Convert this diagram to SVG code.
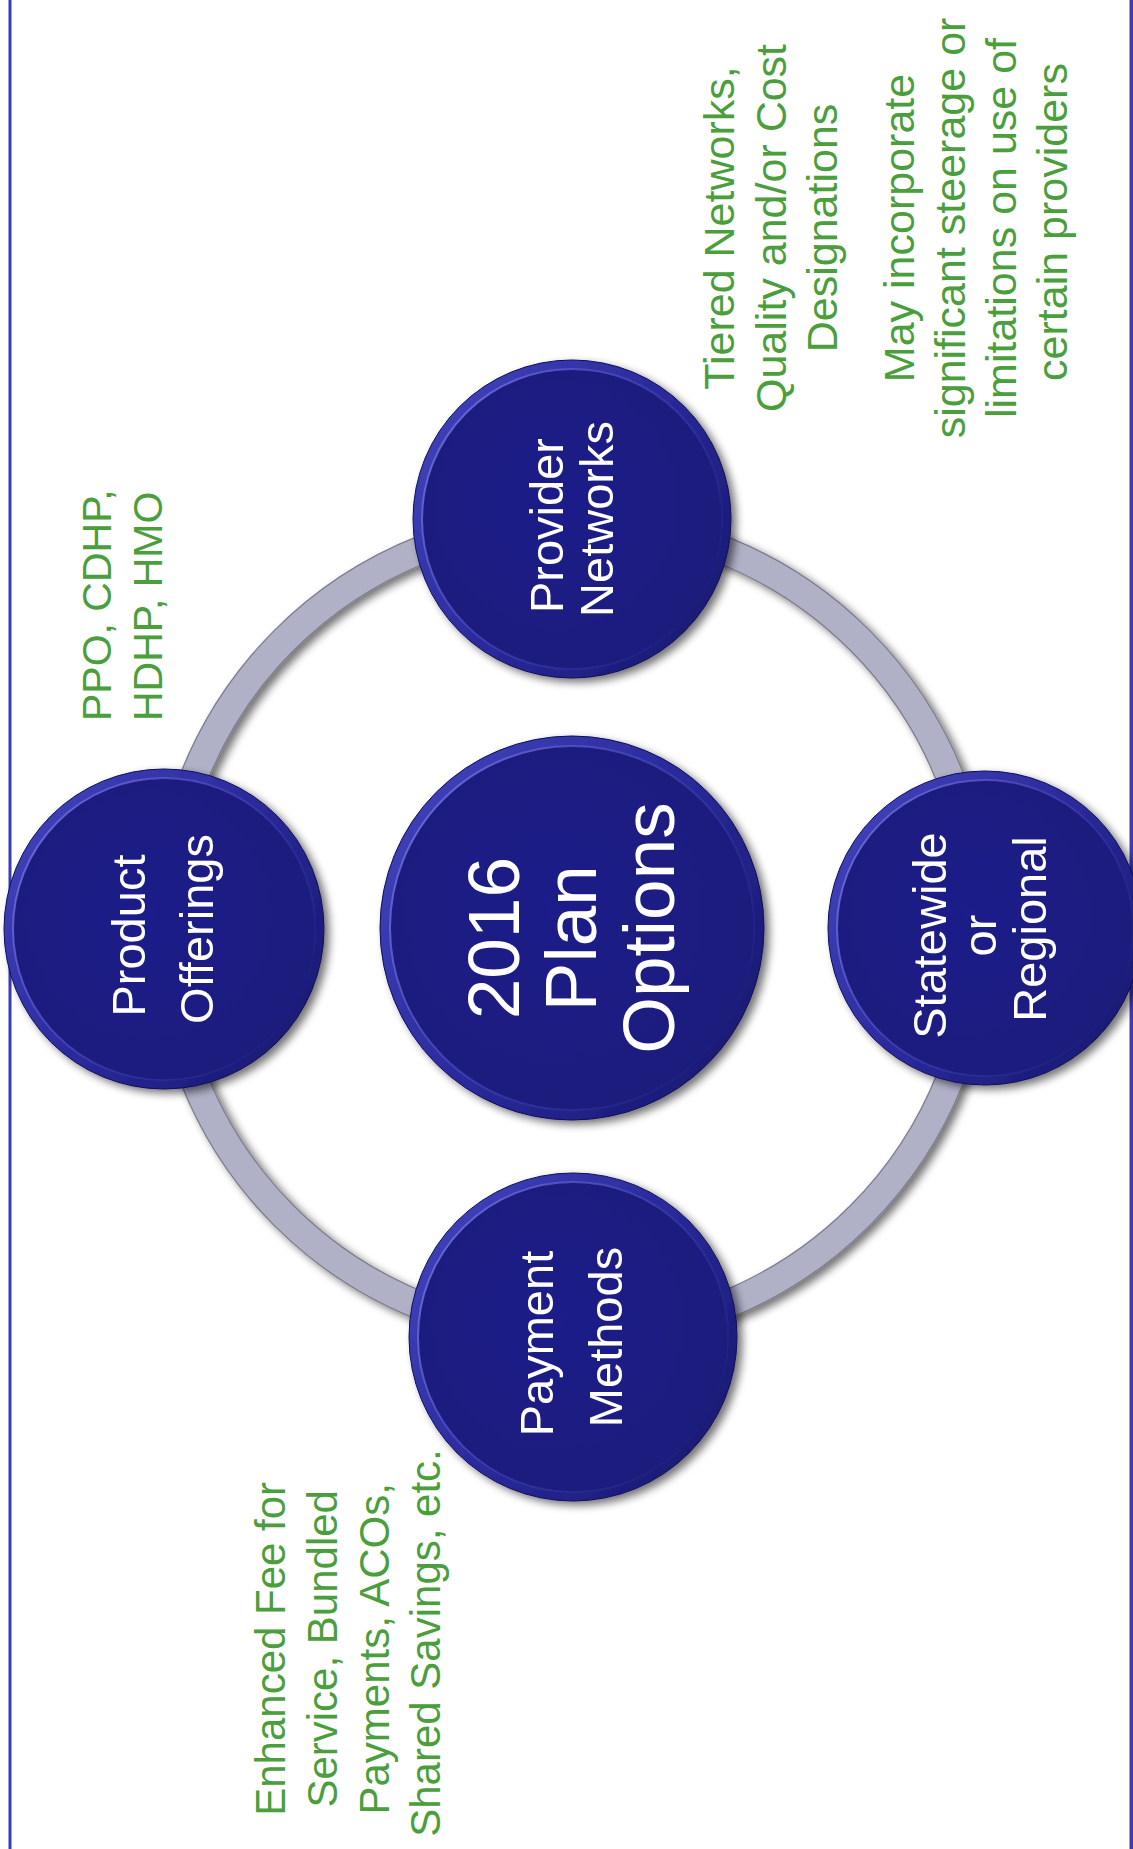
<svg xmlns="http://www.w3.org/2000/svg" width="1133" height="1849" viewBox="0 0 1133 1849">
  <defs>
    <style>
      .lbl { font-family: "Liberation Sans", Arial, sans-serif; fill: #ffffff; text-anchor: middle; }
      .sat { font-size: 47px; }
      .hub { font-size: 73px; }
      .note { font-family: "Liberation Sans", Arial, sans-serif; fill: #4b9e3c; font-size: 42px; text-anchor: middle; }
      .rim { fill: url(#rimGrad); stroke: #10105a; stroke-width: 1; }
      .face { fill: url(#faceGrad); stroke: url(#hlGrad); stroke-width: 2; }
    </style>
    <!-- soft drop shadow for the buttons and the ring -->
    <filter id="drop" x="-20%" y="-20%" width="140%" height="140%">
      <feGaussianBlur in="SourceAlpha" stdDeviation="4"/>
      <feOffset dx="5" dy="4"/>
      <feComponentTransfer><feFuncA type="linear" slope="0.55"/></feComponentTransfer>
      <feMerge><feMergeNode/><feMergeNode in="SourceGraphic"/></feMerge>
    </filter>
    <linearGradient id="rimGrad" x1="0" y1="0.15" x2="1" y2="0.85">
      <stop offset="0" stop-color="#4242bc"/>
      <stop offset="0.5" stop-color="#2a2a9c"/>
      <stop offset="1" stop-color="#17176e"/>
    </linearGradient>
    <radialGradient id="faceGrad" cx="0.45" cy="0.45" r="0.6">
      <stop offset="0" stop-color="#1e1e8a"/>
      <stop offset="1" stop-color="#1a1a7c"/>
    </radialGradient>
    <linearGradient id="hlGrad" x1="0" y1="0.2" x2="1" y2="0.8">
      <stop offset="0" stop-color="#7070dc" stop-opacity="0.95"/>
      <stop offset="0.6" stop-color="#5050c4" stop-opacity="0.35"/>
      <stop offset="1" stop-color="#5050c4" stop-opacity="0"/>
    </linearGradient>
  </defs>

  <rect width="1133" height="1849" fill="#ffffff"/>

  <!-- frame -->
  <g id="frame" fill="#3c3cb4">
    <rect x="8.5" y="0" width="3" height="1849"/>
    <rect x="1129.5" y="0" width="3.5" height="1849"/>
  </g>

  <!-- ring joining the four options -->
  <g id="connectors" filter="url(#drop)">
    <circle cx="572" cy="928" r="407" fill="none" stroke="#7c7c8c" stroke-width="29"/>
    <circle cx="572" cy="928" r="407" fill="none" stroke="#b0b1c7" stroke-width="26.5"/>
  </g>

  <!-- hub -->
  <g id="node-plan-options" filter="url(#drop)">
    <circle class="rim" cx="572" cy="928" r="192"/>
    <circle class="face" cx="572" cy="928" r="182"/>
    <text class="lbl hub" transform="translate(0,928) rotate(-90)">
      <tspan x="0" y="519">2016</tspan>
      <tspan x="0" y="596">Plan</tspan>
      <tspan x="0" y="674">Options</tspan>
    </text>
  </g>

  <g id="node-provider-networks" filter="url(#drop)">
    <circle class="rim" cx="572" cy="519" r="159"/>
    <circle class="face" cx="572" cy="519" r="150"/>
    <text class="lbl sat" transform="translate(0,519) rotate(-90)">
      <tspan x="0" y="563">Provider</tspan>
      <tspan x="0" y="613">Networks</tspan>
    </text>
  </g>

  <g id="node-product-offerings" filter="url(#drop)">
    <circle class="rim" cx="164" cy="929" r="160"/>
    <circle class="face" cx="164" cy="929" r="151"/>
    <text class="lbl sat" transform="translate(0,929) rotate(-90)">
      <tspan x="0" y="145">Product</tspan>
      <tspan x="0" y="213">Offerings</tspan>
    </text>
  </g>

  <g id="node-statewide-regional" filter="url(#drop)">
    <circle class="rim" cx="985" cy="928" r="157"/>
    <circle class="face" cx="985" cy="928" r="148"/>
    <text class="lbl sat" transform="translate(0,929) rotate(-90)">
      <tspan x="0" y="946">Statewide</tspan>
      <tspan x="0" y="996">or</tspan>
      <tspan x="0" y="1046">Regional</tspan>
    </text>
  </g>

  <g id="node-payment-methods" filter="url(#drop)">
    <circle class="rim" cx="573" cy="1337" r="164"/>
    <circle class="face" cx="573" cy="1337" r="155"/>
    <text class="lbl sat" transform="translate(0,1337) rotate(-90)">
      <tspan x="0" y="553">Payment</tspan>
      <tspan x="0" y="622">Methods</tspan>
    </text>
  </g>

  <!-- notes beside the options -->
  <g id="note-products">
    <text class="note" style="text-anchor:start;font-size:41px" transform="translate(0,721) rotate(-90)">
      <tspan x="0" y="111">PPO, CDHP,</tspan>
      <tspan x="0" y="162">HDHP, HMO</tspan>
    </text>
  </g>

  <g id="note-networks">
    <text class="note" style="font-size:43px" transform="translate(0,222) rotate(-90)">
      <tspan x="0" y="734">Tiered Networks,</tspan>
      <tspan x="0" y="786">Quality and/or Cost</tspan>
      <tspan x="0" y="837">Designations</tspan>
      <tspan x="0" y="914">May incorporate</tspan>
      <tspan x="0" y="965">significant steerage or</tspan>
      <tspan x="0" y="1016">limitations on use of</tspan>
      <tspan x="0" y="1067">certain providers</tspan>
    </text>
  </g>

  <g id="note-payment">
    <text class="note" transform="translate(0,1643) rotate(-90)">
      <tspan x="0" y="285">Enhanced Fee for</tspan>
      <tspan x="0" y="337">Service, Bundled</tspan>
      <tspan x="0" y="389">Payments, ACOs,</tspan>
      <tspan x="0" y="440">Shared Savings, etc.</tspan>
    </text>
  </g>
</svg>
